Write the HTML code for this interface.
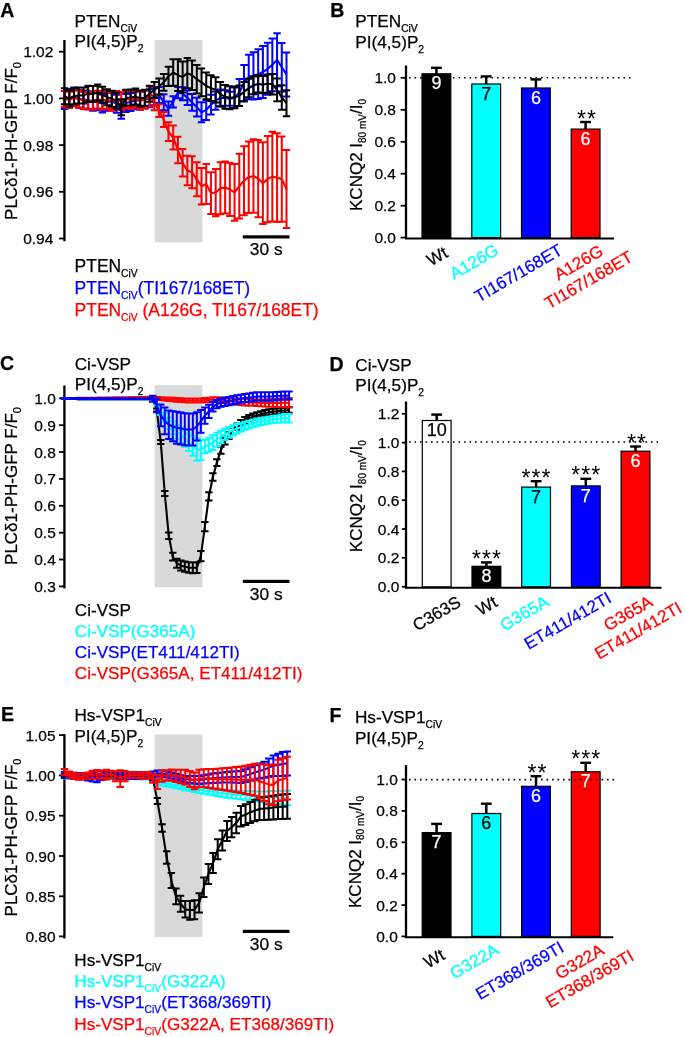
<!DOCTYPE html>
<html><head><meta charset="utf-8"><style>
html,body{margin:0;padding:0;background:#fff;}
svg{display:block;will-change:transform;}
text{font-family:"Liberation Sans", sans-serif;}
</style></head><body>
<svg width="685" height="1037" viewBox="0 0 685 1037" font-family='"Liberation Sans", sans-serif'>
<rect width="685" height="1037" fill="#fff"/>
<text transform="translate(0.30 16.80) scale(1.0 1)" font-size="19.5" text-anchor="start" fill="#000" stroke="#000" stroke-width="0.25" font-weight="bold">A</text>
<text transform="translate(74.60 26.60) scale(1.0 1)" font-size="17.2" text-anchor="start" fill="#000" stroke="#000" stroke-width="0.25" font-weight="normal">PTEN<tspan font-size="10.3" dy="5.0">CiV</tspan><tspan dy="-5.0">​</tspan></text>
<text transform="translate(74.60 47.00) scale(1.0 1)" font-size="17.2" text-anchor="start" fill="#000" stroke="#000" stroke-width="0.25" font-weight="normal">PI(4,5)P<tspan font-size="10.3" dy="5.0">2</tspan><tspan dy="-5.0">​</tspan></text>
<rect x="154.70" y="40.00" width="47.70" height="202.30" fill="#d8dada"/>
<line x1="64.40" y1="40.00" x2="64.40" y2="241.20" stroke="#000" stroke-width="2.3" />
<line x1="59.00" y1="51.70" x2="64.40" y2="51.70" stroke="#000" stroke-width="1.8" />
<text transform="translate(53.30 57.20) scale(1.0 1)" font-size="15.5" text-anchor="end" fill="#000" stroke="#000" stroke-width="0.25" font-weight="normal">1.02</text>
<line x1="59.00" y1="98.40" x2="64.40" y2="98.40" stroke="#000" stroke-width="1.8" />
<text transform="translate(53.30 103.90) scale(1.0 1)" font-size="15.5" text-anchor="end" fill="#000" stroke="#000" stroke-width="0.25" font-weight="normal">1.00</text>
<line x1="59.00" y1="145.10" x2="64.40" y2="145.10" stroke="#000" stroke-width="1.8" />
<text transform="translate(53.30 150.60) scale(1.0 1)" font-size="15.5" text-anchor="end" fill="#000" stroke="#000" stroke-width="0.25" font-weight="normal">0.98</text>
<line x1="59.00" y1="191.80" x2="64.40" y2="191.80" stroke="#000" stroke-width="1.8" />
<text transform="translate(53.30 197.30) scale(1.0 1)" font-size="15.5" text-anchor="end" fill="#000" stroke="#000" stroke-width="0.25" font-weight="normal">0.96</text>
<line x1="59.00" y1="238.50" x2="64.40" y2="238.50" stroke="#000" stroke-width="1.8" />
<text transform="translate(53.30 244.00) scale(1.0 1)" font-size="15.5" text-anchor="end" fill="#000" stroke="#000" stroke-width="0.25" font-weight="normal">0.94</text>
<text transform="translate(16.50 141.00) scale(1.0 1) rotate(-90)" font-size="17" text-anchor="middle" fill="#000" stroke="#000" stroke-width="0.25" font-weight="normal">PLCδ1-PH-GFP F/F<tspan font-size="11" dy="4">0</tspan><tspan dy="-4">​</tspan></text>
<rect x="242.80" y="235.30" width="46.70" height="3.20" fill="#000"/>
<text transform="translate(266.20 255.30) scale(1.0 1)" font-size="17.4" text-anchor="middle" fill="#000" stroke="#000" stroke-width="0.25" font-weight="normal">30 s</text>
<text transform="translate(74.60 271.60) scale(1.0 1)" font-size="17.45" text-anchor="start" fill="#000" stroke="#000" stroke-width="0.25" font-weight="normal">PTEN<tspan font-size="10.3" dy="5.0">CiV</tspan><tspan dy="-5.0">​</tspan></text>
<text transform="translate(74.60 293.90) scale(1.0 1)" font-size="17.45" text-anchor="start" fill="#0000ff" stroke="#0000ff" stroke-width="0.25" font-weight="normal">PTEN<tspan font-size="10.3" dy="5.0">CiV</tspan><tspan dy="-5.0">​</tspan>(TI167/168ET)</text>
<text transform="translate(74.60 316.20) scale(1.0 1)" font-size="17.45" text-anchor="start" fill="#ff0000" stroke="#ff0000" stroke-width="0.25" font-weight="normal">PTEN<tspan font-size="10.3" dy="5.0">CiV</tspan><tspan dy="-5.0">​</tspan> (A126G, TI167/168ET)</text>
<path d="M64.60 91.00V109.00M60.90 91.00H68.30M60.90 109.00H68.30M69.32 89.01V107.01M65.62 89.01H73.02M65.62 107.01H73.02M74.04 87.39V105.39M70.34 87.39H77.74M70.34 105.39H77.74M78.76 89.76V107.76M75.06 89.76H82.46M75.06 107.76H82.46M83.49 90.51V108.51M79.79 90.51H87.19M79.79 108.51H87.19M88.21 91.21V109.21M84.51 91.21H91.91M84.51 109.21H91.91M92.93 92.84V110.84M89.23 92.84H96.63M89.23 110.84H96.63M97.65 92.32V110.32M93.95 92.32H101.35M93.95 110.32H101.35M102.37 94.45V112.45M98.67 94.45H106.07M98.67 112.45H106.07M107.09 92.78V110.78M103.39 92.78H110.79M103.39 110.78H110.79M111.81 92.33V110.33M108.11 92.33H115.51M108.11 110.33H115.51M116.53 94.75V112.75M112.83 94.75H120.23M112.83 112.75H120.23M121.26 100.64V118.64M117.56 100.64H124.96M117.56 118.64H124.96M125.98 94.03V112.03M122.28 94.03H129.68M122.28 112.03H129.68M130.70 93.06V111.06M127.00 93.06H134.40M127.00 111.06H134.40M135.42 91.23V109.23M131.72 91.23H139.12M131.72 109.23H139.12M140.14 91.83V109.83M136.44 91.83H143.84M136.44 109.83H143.84M144.86 90.46V108.46M141.16 90.46H148.56M141.16 108.46H148.56M149.58 89.28V107.28M145.88 89.28H153.28M145.88 107.28H153.28M154.30 88.11V105.25M150.60 88.11H158.00M150.60 105.25H158.00M159.03 86.89V103.09M155.33 86.89H162.73M155.33 103.09H162.73M163.75 94.16V110.16M160.05 94.16H167.45M160.05 110.16H167.45M168.47 101.50V115.85M164.77 101.50H172.17M164.77 115.85H172.17M173.19 96.29V107.49M169.49 96.29H176.89M169.49 107.49H176.89M177.91 87.01V98.18M174.21 87.01H181.61M174.21 98.18H181.61M182.63 87.31V100.37M178.93 87.31H186.33M178.93 100.37H186.33M187.35 90.18V105.12M183.65 90.18H191.05M183.65 105.12H191.05M192.07 93.97V110.80M188.37 93.97H195.77M188.37 110.80H195.77M196.80 97.82V116.54M193.10 97.82H200.50M193.10 116.54H200.50M201.52 102.19V122.19M197.82 102.19H205.22M197.82 122.19H205.22M206.24 99.91V119.91M202.54 99.91H209.94M202.54 119.91H209.94M210.96 94.86V114.57M207.26 94.86H214.66M207.26 114.57H214.66M215.68 91.44V109.74M211.98 91.44H219.38M211.98 109.74H219.38M220.40 89.41V106.29M216.70 89.41H224.10M216.70 106.29H224.10M225.12 90.29V105.75M221.42 90.29H228.82M221.42 105.75H228.82M229.84 91.78V105.83M226.14 91.78H233.54M226.14 105.83H233.54M234.57 87.62V108.01M230.87 87.62H238.27M230.87 108.01H238.27M239.29 78.96V105.96M235.59 78.96H242.99M235.59 105.96H242.99M244.01 65.07V101.09M240.31 65.07H247.71M240.31 101.09H247.71M248.73 54.72V99.14M245.03 54.72H252.43M245.03 99.14H252.43M253.45 52.29V99.40M249.75 52.29H257.15M249.75 99.40H257.15M258.17 49.24V99.05M254.47 49.24H261.87M254.47 99.05H261.87M262.89 46.05V98.05M259.19 46.05H266.59M259.19 98.05H266.59M267.61 42.82V94.82M263.91 42.82H271.31M263.91 94.82H271.31M272.34 38.45V91.23M268.64 38.45H276.04M268.64 91.23H276.04M277.06 33.20V86.19M273.36 33.20H280.76M273.36 86.19H280.76M281.78 42.94V91.44M278.08 42.94H285.48M278.08 91.44H285.48M286.50 52.40V96.40M282.80 52.40H290.20M282.80 96.40H290.20" stroke="#0000ff" stroke-width="2.0" fill="none"/>
<polyline points="64.60,100.00 69.32,98.01 74.04,96.39 78.76,98.76 83.49,99.51 88.21,100.21 92.93,101.84 97.65,101.32 102.37,103.45 107.09,101.78 111.81,101.33 116.53,103.75 121.26,109.64 125.98,103.03 130.70,102.06 135.42,100.23 140.14,100.83 144.86,99.46 149.58,98.28 154.30,96.68 159.03,94.99 163.75,102.16 168.47,108.67 173.19,101.89 177.91,92.59 182.63,93.84 187.35,97.65 192.07,102.39 196.80,107.18 201.52,112.19 206.24,109.91 210.96,104.71 215.68,100.59 220.40,97.85 225.12,98.02 229.84,98.81 234.57,97.81 239.29,92.46 244.01,83.08 248.73,76.93 253.45,75.84 258.17,74.15 262.89,72.05 267.61,68.82 272.34,64.84 277.06,59.69 281.78,67.19 286.50,74.40" stroke="#0000ff" stroke-width="2.1" fill="none" stroke-linejoin="round"/>
<path d="M64.60 91.00V107.00M60.90 91.00H68.30M60.90 107.00H68.30M69.32 91.73V107.93M65.62 91.73H73.02M65.62 107.93H73.02M74.04 89.74V106.22M70.34 89.74H77.74M70.34 106.22H77.74M78.76 90.84V107.59M75.06 90.84H82.46M75.06 107.59H82.46M83.49 91.99V109.02M79.79 91.99H87.19M79.79 109.02H87.19M88.21 92.23V109.54M84.51 92.23H91.91M84.51 109.54H91.91M92.93 92.05V109.64M89.23 92.05H96.63M89.23 109.64H96.63M97.65 90.73V108.59M93.95 90.73H101.35M93.95 108.59H101.35M102.37 91.45V109.45M98.67 91.45H106.07M98.67 109.45H106.07M107.09 90.65V108.65M103.39 90.65H110.79M103.39 108.65H110.79M111.81 92.67V110.67M108.11 92.67H115.51M108.11 110.67H115.51M116.53 91.11V109.11M112.83 91.11H120.23M112.83 109.11H120.23M121.26 91.90V109.90M117.56 91.90H124.96M117.56 109.90H124.96M125.98 90.01V108.01M122.28 90.01H129.68M122.28 108.01H129.68M130.70 90.94V108.94M127.00 90.94H134.40M127.00 108.94H134.40M135.42 89.23V107.23M131.72 89.23H139.12M131.72 107.23H139.12M140.14 91.48V109.48M136.44 91.48H143.84M136.44 109.48H143.84M144.86 90.46V108.46M141.16 90.46H148.56M141.16 108.46H148.56M149.58 86.40V106.23M145.88 86.40H153.28M145.88 106.23H153.28M154.30 95.21V110.29M150.60 95.21H158.00M150.60 110.29H158.00M159.03 104.13V117.03M155.33 104.13H162.73M155.33 117.03H162.73M163.75 112.03V127.03M160.05 112.03H167.45M160.05 127.03H167.45M168.47 122.33V141.08M164.77 122.33H172.17M164.77 141.08H172.17M173.19 125.60V149.59M169.49 125.60H176.89M169.49 149.59H176.89M177.91 136.74V163.32M174.21 136.74H181.61M174.21 163.32H181.61M182.63 148.98V176.50M178.93 148.98H186.33M178.93 176.50H186.33M187.35 155.84V185.18M183.65 155.84H191.05M183.65 185.18H191.05M192.07 156.34V188.37M188.37 156.34H195.77M188.37 188.37H195.77M196.80 162.32V196.36M193.10 162.32H200.50M193.10 196.36H200.50M201.52 168.01V204.51M197.82 168.01H205.22M197.82 204.51H205.22M206.24 164.03V203.95M202.54 164.03H209.94M202.54 203.95H209.94M210.96 172.22V214.01M207.26 172.22H214.66M207.26 214.01H214.66M215.68 168.91V216.17M211.98 168.91H219.38M211.98 216.17H219.38M220.40 162.28V214.28M216.70 162.28H224.10M216.70 214.28H224.10M225.12 161.60V213.60M221.42 161.60H228.82M221.42 213.60H228.82M229.84 162.69V216.00M226.14 162.69H233.54M226.14 216.00H233.54M234.57 164.09V220.78M230.87 164.09H238.27M230.87 220.78H238.27M239.29 153.84V218.56M235.59 153.84H242.99M235.59 218.56H242.99M244.01 146.16V215.36M240.31 146.16H247.71M240.31 215.36H247.71M248.73 141.44V212.93M245.03 141.44H252.43M245.03 212.93H252.43M253.45 139.28V212.66M249.75 139.28H257.15M249.75 212.66H257.15M258.17 139.96V217.14M254.47 139.96H261.87M254.47 217.14H261.87M262.89 142.20V224.09M259.19 142.20H266.59M259.19 224.09H266.59M267.61 135.95V222.19M263.91 135.95H271.31M263.91 222.19H271.31M272.34 131.63V221.55M268.64 131.63H276.04M268.64 221.55H276.04M277.06 133.24V221.98M273.36 133.24H280.76M273.36 221.98H280.76M281.78 136.51V221.78M278.08 136.51H285.48M278.08 221.78H285.48M286.50 150.00V228.00M282.80 150.00H290.20M282.80 228.00H290.20" stroke="#ff0000" stroke-width="2.0" fill="none"/>
<polyline points="64.60,99.00 69.32,99.83 74.04,97.98 78.76,99.21 83.49,100.50 88.21,100.88 92.93,100.84 97.65,99.66 102.37,100.45 107.09,99.65 111.81,101.67 116.53,100.11 121.26,100.90 125.98,99.01 130.70,99.94 135.42,98.23 140.14,100.48 144.86,99.46 149.58,96.31 154.30,102.75 159.03,110.58 163.75,119.53 168.47,131.70 173.19,137.59 177.91,150.03 182.63,162.74 187.35,170.51 192.07,172.36 196.80,179.34 201.52,186.26 206.24,183.99 210.96,193.11 215.68,192.54 220.40,188.28 225.12,187.60 229.84,189.34 234.57,192.43 239.29,186.20 244.01,180.76 248.73,177.19 253.45,175.97 258.17,178.55 262.89,183.15 267.61,179.07 272.34,176.59 277.06,177.61 281.78,179.14 286.50,189.00" stroke="#ff0000" stroke-width="2.1" fill="none" stroke-linejoin="round"/>
<path d="M64.60 88.30V104.30M60.90 88.30H68.30M60.90 104.30H68.30M69.32 90.59V106.59M65.62 90.59H73.02M65.62 106.59H73.02M74.04 88.28V104.28M70.34 88.28H77.74M70.34 104.28H77.74M78.76 87.46V103.46M75.06 87.46H82.46M75.06 103.46H82.46M83.49 87.38V103.38M79.79 87.38H87.19M79.79 103.38H87.19M88.21 85.78V101.78M84.51 85.78H91.91M84.51 101.78H91.91M92.93 85.99V101.99M89.23 85.99H96.63M89.23 101.99H96.63M97.65 84.55V100.55M93.95 84.55H101.35M93.95 100.55H101.35M102.37 86.83V102.83M98.67 86.83H106.07M98.67 102.83H106.07M107.09 89.16V105.16M103.39 89.16H110.79M103.39 105.16H110.79M111.81 90.68V106.68M108.11 90.68H115.51M108.11 106.68H115.51M116.53 92.85V108.85M112.83 92.85H120.23M112.83 108.85H120.23M121.26 99.18V115.18M117.56 99.18H124.96M117.56 115.18H124.96M125.98 89.70V105.70M122.28 89.70H129.68M122.28 105.70H129.68M130.70 89.53V105.53M127.00 89.53H134.40M127.00 105.53H134.40M135.42 88.41V104.41M131.72 88.41H139.12M131.72 104.41H139.12M140.14 90.38V106.38M136.44 90.38H143.84M136.44 106.38H143.84M144.86 89.67V105.67M141.16 89.67H148.56M141.16 105.67H148.56M149.58 85.86V101.86M145.88 85.86H153.28M145.88 101.86H153.28M154.30 81.93V97.93M150.60 81.93H158.00M150.60 97.93H158.00M159.03 78.46V94.46M155.33 78.46H162.73M155.33 94.46H162.73M163.75 73.88V90.75M160.05 73.88H167.45M160.05 90.75H167.45M168.47 66.64V85.88M164.77 66.64H172.17M164.77 85.88H172.17M173.19 59.34V85.72M169.49 59.34H176.89M169.49 85.72H176.89M177.91 59.34V91.07M174.21 59.34H181.61M174.21 91.07H181.61M182.63 61.44V92.49M178.93 61.44H186.33M178.93 92.49H186.33M187.35 57.91V88.29M183.65 57.91H191.05M183.65 88.29H191.05M192.07 60.40V89.98M188.37 60.40H195.77M188.37 89.98H195.77M196.80 64.91V93.55M193.10 64.91H200.50M193.10 93.55H200.50M201.52 68.55V96.25M197.82 68.55H205.22M197.82 96.25H205.22M206.24 72.58V99.33M202.54 72.58H209.94M202.54 99.33H209.94M210.96 75.19V101.06M207.26 75.19H214.66M207.26 101.06H214.66M215.68 77.21V102.46M211.98 77.21H219.38M211.98 102.46H219.38M220.40 81.89V106.50M216.70 81.89H224.10M216.70 106.50H224.10M225.12 84.90V108.87M221.42 84.90H228.82M221.42 108.87H228.82M229.84 86.36V109.20M226.14 86.36H233.54M226.14 109.20H233.54M234.57 86.53V108.23M230.87 86.53H238.27M230.87 108.23H238.27M239.29 85.38V105.95M235.59 85.38H242.99M235.59 105.95H242.99M244.01 82.10V101.54M240.31 82.10H247.71M240.31 101.54H247.71M248.73 78.87V97.17M245.03 78.87H252.43M245.03 97.17H252.43M253.45 76.57V94.34M249.75 76.57H257.15M249.75 94.34H257.15M258.17 74.99V92.44M254.47 74.99H261.87M254.47 92.44H261.87M262.89 76.09V93.23M259.19 76.09H266.59M259.19 93.23H266.59M267.61 74.41V92.63M263.91 74.41H271.31M263.91 92.63H271.31M272.34 74.05V94.47M268.64 74.05H276.04M268.64 94.47H276.04M277.06 78.60V101.22M273.36 78.60H280.76M273.36 101.22H280.76M281.78 85.16V109.71M278.08 85.16H285.48M278.08 109.71H285.48M286.50 90.30V116.30M282.80 90.30H290.20M282.80 116.30H290.20" stroke="#000000" stroke-width="2.0" fill="none"/>
<polyline points="64.60,96.30 69.32,98.59 74.04,96.28 78.76,95.46 83.49,95.38 88.21,93.78 92.93,93.99 97.65,92.55 102.37,94.83 107.09,97.16 111.81,98.68 116.53,100.85 121.26,107.18 125.98,97.70 130.70,97.53 135.42,96.41 140.14,98.38 144.86,97.67 149.58,93.86 154.30,89.93 159.03,86.46 163.75,82.32 168.47,76.26 173.19,72.53 177.91,75.21 182.63,76.97 187.35,73.10 192.07,75.19 196.80,79.23 201.52,82.40 206.24,85.95 210.96,88.12 215.68,89.83 220.40,94.20 225.12,96.88 229.84,97.78 234.57,97.38 239.29,95.67 244.01,91.82 248.73,88.02 253.45,85.46 258.17,83.71 262.89,84.66 267.61,83.52 272.34,84.26 277.06,89.91 281.78,97.43 286.50,103.30" stroke="#000000" stroke-width="2.1" fill="none" stroke-linejoin="round"/>
<text transform="translate(330.20 16.80) scale(1.0 1)" font-size="19.5" text-anchor="start" fill="#000" stroke="#000" stroke-width="0.25" font-weight="bold">B</text>
<text transform="translate(355.30 27.40) scale(1.0 1)" font-size="17.2" text-anchor="start" fill="#000" stroke="#000" stroke-width="0.25" font-weight="normal">PTEN<tspan font-size="10.3" dy="5.0">CiV</tspan><tspan dy="-5.0">​</tspan></text>
<text transform="translate(355.30 47.60) scale(1.0 1)" font-size="17.2" text-anchor="start" fill="#000" stroke="#000" stroke-width="0.25" font-weight="normal">PI(4,5)P<tspan font-size="10.3" dy="5.0">2</tspan><tspan dy="-5.0">​</tspan></text>
<line x1="406.00" y1="65.50" x2="406.00" y2="239.10" stroke="#000" stroke-width="2.3" />
<line x1="405.00" y1="238.50" x2="614.00" y2="238.50" stroke="#000" stroke-width="2.1" />
<line x1="400.60" y1="77.80" x2="406.00" y2="77.80" stroke="#000" stroke-width="1.8" />
<text transform="translate(396.00 83.30) scale(1.0 1)" font-size="15.5" text-anchor="end" fill="#000" stroke="#000" stroke-width="0.25" font-weight="normal">1.0</text>
<line x1="400.60" y1="109.80" x2="406.00" y2="109.80" stroke="#000" stroke-width="1.8" />
<text transform="translate(396.00 115.30) scale(1.0 1)" font-size="15.5" text-anchor="end" fill="#000" stroke="#000" stroke-width="0.25" font-weight="normal">0.8</text>
<line x1="400.60" y1="141.80" x2="406.00" y2="141.80" stroke="#000" stroke-width="1.8" />
<text transform="translate(396.00 147.30) scale(1.0 1)" font-size="15.5" text-anchor="end" fill="#000" stroke="#000" stroke-width="0.25" font-weight="normal">0.6</text>
<line x1="400.60" y1="173.70" x2="406.00" y2="173.70" stroke="#000" stroke-width="1.8" />
<text transform="translate(396.00 179.20) scale(1.0 1)" font-size="15.5" text-anchor="end" fill="#000" stroke="#000" stroke-width="0.25" font-weight="normal">0.4</text>
<line x1="400.60" y1="205.70" x2="406.00" y2="205.70" stroke="#000" stroke-width="1.8" />
<text transform="translate(396.00 211.20) scale(1.0 1)" font-size="15.5" text-anchor="end" fill="#000" stroke="#000" stroke-width="0.25" font-weight="normal">0.2</text>
<line x1="400.60" y1="237.60" x2="406.00" y2="237.60" stroke="#000" stroke-width="1.8" />
<text transform="translate(396.00 243.10) scale(1.0 1)" font-size="15.5" text-anchor="end" fill="#000" stroke="#000" stroke-width="0.25" font-weight="normal">0.0</text>
<text transform="translate(362.00 155.00) scale(1.0 1) rotate(-90)" font-size="17" text-anchor="middle" fill="#000" stroke="#000" stroke-width="0.25" font-weight="normal">KCNQ2 I<tspan font-size="10" dy="3.5">80 mV</tspan><tspan dy="-3.5">​</tspan>/I<tspan font-size="10" dy="3.5">0</tspan><tspan dy="-3.5">​</tspan></text>
<line x1="436.40" y1="67.80" x2="436.40" y2="73.80" stroke="#000" stroke-width="2.5" />
<line x1="431.00" y1="67.80" x2="441.80" y2="67.80" stroke="#000" stroke-width="2.4" />
<rect x="422.00" y="73.80" width="28.80" height="163.80" fill="#000000" stroke="#000" stroke-width="1.2"/>
<line x1="486.20" y1="76.40" x2="486.20" y2="84.00" stroke="#000" stroke-width="2.5" />
<line x1="480.80" y1="76.40" x2="491.60" y2="76.40" stroke="#000" stroke-width="2.4" />
<rect x="471.80" y="84.00" width="28.80" height="153.60" fill="#00ffff" stroke="#000" stroke-width="1.2"/>
<line x1="535.90" y1="79.40" x2="535.90" y2="88.00" stroke="#000" stroke-width="2.5" />
<line x1="530.50" y1="79.40" x2="541.30" y2="79.40" stroke="#000" stroke-width="2.4" />
<rect x="521.50" y="88.00" width="28.80" height="149.60" fill="#0000ff" stroke="#000" stroke-width="1.2"/>
<line x1="585.60" y1="122.00" x2="585.60" y2="129.10" stroke="#000" stroke-width="2.5" />
<line x1="580.20" y1="122.00" x2="591.00" y2="122.00" stroke="#000" stroke-width="2.4" />
<rect x="571.20" y="129.10" width="28.80" height="108.50" fill="#ff0000" stroke="#000" stroke-width="1.2"/>
<text x="587.00" y="126.60" font-size="23" letter-spacing="1.05" text-anchor="middle">**</text>
<line x1="409" y1="77.80" x2="632" y2="77.80" stroke="#000" stroke-width="1.6" stroke-dasharray="1.6 3.9"/>
<text transform="translate(436.40 89.40) scale(1.0 1)" font-size="18" text-anchor="middle" fill="#fff" stroke="#fff" stroke-width="0.25" font-weight="normal">9</text>
<text transform="translate(486.20 99.60) scale(1.0 1)" font-size="18" text-anchor="middle" fill="#000" stroke="#000" stroke-width="0.25" font-weight="normal">7</text>
<text transform="translate(535.90 103.60) scale(1.0 1)" font-size="18" text-anchor="middle" fill="#fff" stroke="#fff" stroke-width="0.25" font-weight="normal">6</text>
<text transform="translate(585.60 144.70) scale(1.0 1)" font-size="18" text-anchor="middle" fill="#fff" stroke="#fff" stroke-width="0.25" font-weight="normal">6</text>
<g transform="translate(449.00 256.20) rotate(-30)"><text x="-10.38" y="0.00" font-size="17" text-anchor="middle" fill="#000000" stroke="#000000" stroke-width="0.25">Wt</text></g>
<g transform="translate(499.80 253.50) rotate(-30)"><text x="-26.46" y="0.00" font-size="17" text-anchor="middle" fill="#00ffff" stroke="#00ffff" stroke-width="0.25">A126G</text></g>
<g transform="translate(563.80 253.50) rotate(-30)"><text x="-49.14" y="0.00" font-size="17" text-anchor="middle" fill="#0000ff" stroke="#0000ff" stroke-width="0.25">TI167/168ET</text></g>
<g transform="translate(624.00 243.00) rotate(-30)"><text x="-49.14" y="0.00" font-size="17" text-anchor="middle" fill="#ff0000" stroke="#ff0000" stroke-width="0.25">A126G</text><text x="-49.14" y="20.00" font-size="17" text-anchor="middle" fill="#ff0000" stroke="#ff0000" stroke-width="0.25">TI167/168ET</text></g>
<text transform="translate(0.00 370.20) scale(1.0 1)" font-size="19.5" text-anchor="start" fill="#000" stroke="#000" stroke-width="0.25" font-weight="bold">C</text>
<text transform="translate(74.70 369.60) scale(1.0 1)" font-size="17.2" text-anchor="start" fill="#000" stroke="#000" stroke-width="0.25" font-weight="normal">Ci-VSP</text>
<text transform="translate(74.70 390.30) scale(1.0 1)" font-size="17.2" text-anchor="start" fill="#000" stroke="#000" stroke-width="0.25" font-weight="normal">PI(4,5)P<tspan font-size="10.3" dy="5.0">2</tspan><tspan dy="-5.0">​</tspan></text>
<rect x="154.70" y="385.20" width="47.70" height="202.00" fill="#d8dada"/>
<line x1="64.40" y1="385.40" x2="64.40" y2="588.40" stroke="#000" stroke-width="2.3" />
<line x1="59.00" y1="398.30" x2="64.40" y2="398.30" stroke="#000" stroke-width="1.8" />
<text transform="translate(55.80 403.80) scale(1.0 1)" font-size="15.5" text-anchor="end" fill="#000" stroke="#000" stroke-width="0.25" font-weight="normal">1.0</text>
<line x1="59.00" y1="425.20" x2="64.40" y2="425.20" stroke="#000" stroke-width="1.8" />
<text transform="translate(55.80 430.70) scale(1.0 1)" font-size="15.5" text-anchor="end" fill="#000" stroke="#000" stroke-width="0.25" font-weight="normal">0.9</text>
<line x1="59.00" y1="452.00" x2="64.40" y2="452.00" stroke="#000" stroke-width="1.8" />
<text transform="translate(55.80 457.50) scale(1.0 1)" font-size="15.5" text-anchor="end" fill="#000" stroke="#000" stroke-width="0.25" font-weight="normal">0.8</text>
<line x1="59.00" y1="478.90" x2="64.40" y2="478.90" stroke="#000" stroke-width="1.8" />
<text transform="translate(55.80 484.40) scale(1.0 1)" font-size="15.5" text-anchor="end" fill="#000" stroke="#000" stroke-width="0.25" font-weight="normal">0.7</text>
<line x1="59.00" y1="505.80" x2="64.40" y2="505.80" stroke="#000" stroke-width="1.8" />
<text transform="translate(55.80 511.30) scale(1.0 1)" font-size="15.5" text-anchor="end" fill="#000" stroke="#000" stroke-width="0.25" font-weight="normal">0.6</text>
<line x1="59.00" y1="532.70" x2="64.40" y2="532.70" stroke="#000" stroke-width="1.8" />
<text transform="translate(55.80 538.20) scale(1.0 1)" font-size="15.5" text-anchor="end" fill="#000" stroke="#000" stroke-width="0.25" font-weight="normal">0.5</text>
<line x1="59.00" y1="559.50" x2="64.40" y2="559.50" stroke="#000" stroke-width="1.8" />
<text transform="translate(55.80 565.00) scale(1.0 1)" font-size="15.5" text-anchor="end" fill="#000" stroke="#000" stroke-width="0.25" font-weight="normal">0.4</text>
<line x1="59.00" y1="586.40" x2="64.40" y2="586.40" stroke="#000" stroke-width="1.8" />
<text transform="translate(55.80 591.90) scale(1.0 1)" font-size="15.5" text-anchor="end" fill="#000" stroke="#000" stroke-width="0.25" font-weight="normal">0.3</text>
<text transform="translate(16.50 486.00) scale(1.0 1) rotate(-90)" font-size="17" text-anchor="middle" fill="#000" stroke="#000" stroke-width="0.25" font-weight="normal">PLCδ1-PH-GFP F/F<tspan font-size="11" dy="4">0</tspan><tspan dy="-4">​</tspan></text>
<rect x="242.80" y="579.80" width="46.70" height="3.20" fill="#000"/>
<text transform="translate(266.20 599.80) scale(1.0 1)" font-size="17.4" text-anchor="middle" fill="#000" stroke="#000" stroke-width="0.25" font-weight="normal">30 s</text>
<text transform="translate(74.80 615.80) scale(1.0 1)" font-size="17.1" text-anchor="start" fill="#000" stroke="#000" stroke-width="0.25" font-weight="normal">Ci-VSP</text>
<text transform="translate(74.80 636.60) scale(1.0 1)" font-size="17.1" text-anchor="start" fill="#00ffff" stroke="#00ffff" stroke-width="0.25" font-weight="normal">Ci-VSP(G365A)</text>
<text transform="translate(74.80 657.70) scale(1.0 1)" font-size="17.1" text-anchor="start" fill="#0000ff" stroke="#0000ff" stroke-width="0.25" font-weight="normal">Ci-VSP(ET411/412TI)</text>
<text transform="translate(74.80 679.30) scale(1.0 1)" font-size="17.1" text-anchor="start" fill="#ff0000" stroke="#ff0000" stroke-width="0.25" font-weight="normal">Ci-VSP(G365A, ET411/412TI)</text>
<path d="M64.60 398.10V399.10M60.90 398.10H68.30M60.90 399.10H68.30M68.61 398.11V399.11M64.91 398.11H72.31M64.91 399.11H72.31M72.61 398.12V399.12M68.91 398.12H76.31M68.91 399.12H76.31M76.62 398.12V399.12M72.92 398.12H80.32M72.92 399.12H80.32M80.63 398.13V399.13M76.93 398.13H84.33M76.93 399.13H84.33M84.64 398.14V399.14M80.94 398.14H88.34M80.94 399.14H88.34M88.64 398.15V399.15M84.94 398.15H92.34M84.94 399.15H92.34M92.65 398.16V399.16M88.95 398.16H96.35M88.95 399.16H96.35M96.66 398.17V399.17M92.96 398.17H100.36M92.96 399.17H100.36M100.66 398.18V399.18M96.96 398.18H104.36M96.96 399.18H104.36M104.67 398.19V399.19M100.97 398.19H108.37M100.97 399.19H108.37M108.68 398.20V399.20M104.98 398.20H112.38M104.98 399.20H112.38M112.69 398.21V399.21M108.99 398.21H116.39M108.99 399.21H116.39M116.69 398.22V399.22M112.99 398.22H120.39M112.99 399.22H120.39M120.70 398.23V399.23M117.00 398.23H124.40M117.00 399.23H124.40M124.71 398.23V399.23M121.01 398.23H128.41M121.01 399.23H128.41M128.71 398.24V399.24M125.01 398.24H132.41M125.01 399.24H132.41M132.72 398.25V399.25M129.02 398.25H136.42M129.02 399.25H136.42M136.73 398.26V399.26M133.03 398.26H140.43M133.03 399.26H140.43M140.74 398.27V399.27M137.04 398.27H144.44M137.04 399.27H144.44M144.74 398.28V399.28M141.04 398.28H148.44M141.04 399.28H148.44M148.75 398.29V399.29M145.05 398.29H152.45M145.05 399.29H152.45M152.76 397.91V399.69M149.06 397.91H156.46M149.06 399.69H156.46M156.76 408.55V411.48M153.06 408.55H160.46M153.06 411.48H160.46M160.77 440.11V444.05M157.07 440.11H164.47M157.07 444.05H164.47M164.78 491.00V495.95M161.08 491.00H168.48M161.08 495.95H168.48M168.79 532.54V539.06M165.09 532.54H172.49M165.09 539.06H172.49M172.79 552.70V560.54M169.09 552.70H176.49M169.09 560.54H176.49M176.80 558.75V567.79M173.10 558.75H180.50M173.10 567.79H180.50M180.81 560.38V570.43M177.11 560.38H184.51M177.11 570.43H184.51M184.81 561.57V571.84M181.11 561.57H188.51M181.11 571.84H188.51M188.82 562.32V572.81M185.12 562.32H192.52M185.12 572.81H192.52M192.83 562.55V573.26M189.13 562.55H196.53M189.13 573.26H196.53M196.84 562.18V573.11M193.14 562.18H200.54M193.14 573.11H200.54M200.84 551.12V561.31M197.14 551.12H204.54M197.14 561.31H204.54M204.85 522.10V531.15M201.15 522.10H208.55M201.15 531.15H208.55M208.86 492.35V500.58M205.16 492.35H212.56M205.16 500.58H212.56M212.86 473.28V480.71M209.16 473.28H216.56M209.16 480.71H216.56M216.87 459.13V466.09M213.17 459.13H220.57M213.17 466.09H220.57M220.88 446.83V453.69M217.18 446.83H224.58M217.18 453.69H224.58M224.89 437.86V444.62M221.19 437.86H228.59M221.19 444.62H228.59M228.89 432.32V438.99M225.19 432.32H232.59M225.19 438.99H232.59M232.90 427.41V433.99M229.20 427.41H236.60M229.20 433.99H236.60M236.91 423.46V429.93M233.21 423.46H240.61M233.21 429.93H240.61M240.91 419.92V426.31M237.21 419.92H244.61M237.21 426.31H244.61M244.92 417.08V423.40M241.22 417.08H248.62M241.22 423.40H248.62M248.93 415.11V421.36M245.23 415.11H252.63M245.23 421.36H252.63M252.94 413.52V419.71M249.24 413.52H256.64M249.24 419.71H256.64M256.94 412.34V418.46M253.24 412.34H260.64M253.24 418.46H260.64M260.95 411.19V417.25M257.25 411.19H264.65M257.25 417.25H264.65M264.96 410.12V416.11M261.26 410.12H268.66M261.26 416.11H268.66M268.96 409.30V415.23M265.26 409.30H272.66M265.26 415.23H272.66M272.97 408.76V414.62M269.27 408.76H276.67M269.27 414.62H276.67M276.98 408.43V414.23M273.28 408.43H280.68M273.28 414.23H280.68M280.99 408.04V413.77M277.29 408.04H284.69M277.29 413.77H284.69M284.99 407.63V413.30M281.29 407.63H288.69M281.29 413.30H288.69M289.00 407.20V412.80M285.30 407.20H292.70M285.30 412.80H292.70" stroke="#000000" stroke-width="2.0" fill="none"/>
<polyline points="64.60,398.60 68.61,398.61 72.61,398.62 76.62,398.62 80.63,398.63 84.64,398.64 88.64,398.65 92.65,398.66 96.66,398.67 100.66,398.68 104.67,398.69 108.68,398.70 112.69,398.71 116.69,398.72 120.70,398.73 124.71,398.73 128.71,398.74 132.72,398.75 136.73,398.76 140.74,398.77 144.74,398.78 148.75,398.79 152.76,398.80 156.76,410.01 160.77,442.08 164.78,493.48 168.79,535.80 172.79,556.62 176.80,563.27 180.81,565.40 184.81,566.70 188.82,567.57 192.83,567.90 196.84,567.65 200.84,556.21 204.85,526.62 208.86,496.46 212.86,477.00 216.87,462.61 220.88,450.26 224.89,441.24 228.89,435.66 232.90,430.70 236.91,426.69 240.91,423.11 244.92,420.24 248.93,418.24 252.94,416.61 256.94,415.40 260.95,414.22 264.96,413.12 268.96,412.27 272.97,411.69 276.98,411.33 280.99,410.90 284.99,410.46 289.00,410.00" stroke="#000000" stroke-width="2.1" fill="none" stroke-linejoin="round"/>
<path d="M64.60 398.10V399.10M60.90 398.10H68.30M60.90 399.10H68.30M68.61 398.11V399.11M64.91 398.11H72.31M64.91 399.11H72.31M72.61 398.12V399.12M68.91 398.12H76.31M68.91 399.12H76.31M76.62 398.12V399.12M72.92 398.12H80.32M72.92 399.12H80.32M80.63 398.13V399.13M76.93 398.13H84.33M76.93 399.13H84.33M84.64 398.14V399.14M80.94 398.14H88.34M80.94 399.14H88.34M88.64 398.15V399.15M84.94 398.15H92.34M84.94 399.15H92.34M92.65 398.16V399.16M88.95 398.16H96.35M88.95 399.16H96.35M96.66 398.17V399.17M92.96 398.17H100.36M92.96 399.17H100.36M100.66 398.18V399.18M96.96 398.18H104.36M96.96 399.18H104.36M104.67 398.19V399.19M100.97 398.19H108.37M100.97 399.19H108.37M108.68 398.20V399.20M104.98 398.20H112.38M104.98 399.20H112.38M112.69 398.21V399.21M108.99 398.21H116.39M108.99 399.21H116.39M116.69 398.22V399.22M112.99 398.22H120.39M112.99 399.22H120.39M120.70 398.23V399.23M117.00 398.23H124.40M117.00 399.23H124.40M124.71 398.23V399.23M121.01 398.23H128.41M121.01 399.23H128.41M128.71 398.24V399.24M125.01 398.24H132.41M125.01 399.24H132.41M132.72 398.25V399.25M129.02 398.25H136.42M129.02 399.25H136.42M136.73 398.26V399.26M133.03 398.26H140.43M133.03 399.26H140.43M140.74 398.27V399.27M137.04 398.27H144.44M137.04 399.27H144.44M144.74 398.28V399.28M141.04 398.28H148.44M141.04 399.28H148.44M148.75 398.29V399.29M145.05 398.29H152.45M145.05 399.29H152.45M152.76 397.44V400.16M149.06 397.44H156.46M149.06 400.16H156.46M156.76 400.11V405.33M153.06 400.11H160.46M153.06 405.33H160.46M160.77 407.54V414.93M157.07 407.54H164.47M157.07 414.93H164.47M164.78 412.95V422.34M161.08 412.95H168.48M161.08 422.34H168.48M168.79 417.60V429.00M165.09 417.60H172.49M165.09 429.00H172.49M172.79 421.37V434.21M169.09 421.37H176.49M169.09 434.21H176.49M176.80 424.65V438.69M173.10 424.65H180.50M173.10 438.69H180.50M180.81 427.38V442.63M177.11 427.38H184.51M177.11 442.63H184.51M184.81 430.36V446.80M181.11 430.36H188.51M181.11 446.80H188.51M188.82 433.43V451.08M185.12 433.43H192.52M185.12 451.08H192.52M192.83 436.01V455.84M189.13 436.01H196.53M189.13 455.84H196.53M196.84 438.29V460.70M193.14 438.29H200.54M193.14 460.70H200.54M200.84 439.65V460.14M197.14 439.65H204.54M197.14 460.14H204.54M204.85 439.99V453.26M201.15 439.99H208.55M201.15 453.26H208.55M208.86 437.70V451.80M205.16 437.70H212.56M205.16 451.80H212.56M212.86 435.18V449.95M209.16 435.18H216.56M209.16 449.95H216.56M216.87 432.76V446.46M213.17 432.76H220.57M213.17 446.46H220.57M220.88 430.73V443.14M217.18 430.73H224.58M217.18 443.14H224.58M224.89 428.88V439.92M221.19 428.88H228.59M221.19 439.92H228.59M228.89 426.91V437.65M225.19 426.91H232.59M225.19 437.65H232.59M232.90 425.25V435.47M229.20 425.25H236.60M229.20 435.47H236.60M236.91 424.06V433.48M233.21 424.06H240.61M233.21 433.48H240.61M240.91 422.88V431.49M237.21 422.88H244.61M237.21 431.49H244.61M244.92 421.68V429.63M241.22 421.68H248.62M241.22 429.63H248.62M248.93 420.67V428.39M245.23 420.67H252.63M245.23 428.39H252.63M252.94 419.66V427.15M249.24 419.66H256.64M249.24 427.15H256.64M256.94 418.65V425.91M253.24 418.65H260.64M253.24 425.91H260.64M260.95 417.98V425.04M257.25 417.98H264.65M257.25 425.04H264.65M264.96 417.37V424.25M261.26 417.37H268.66M261.26 424.25H268.66M268.96 416.76V423.45M265.26 416.76H272.66M265.26 423.45H272.66M272.97 416.11V422.93M269.27 416.11H276.67M269.27 422.93H276.67M276.98 415.40V422.67M273.28 415.40H280.68M273.28 422.67H280.68M280.99 414.69V422.40M277.29 414.69H284.69M277.29 422.40H284.69M284.99 414.12V422.28M281.29 414.12H288.69M281.29 422.28H288.69M289.00 413.90V422.50M285.30 413.90H292.70M285.30 422.50H292.70" stroke="#00ffff" stroke-width="2.0" fill="none"/>
<polyline points="64.60,398.60 68.61,398.61 72.61,398.62 76.62,398.62 80.63,398.63 84.64,398.64 88.64,398.65 92.65,398.66 96.66,398.67 100.66,398.68 104.67,398.69 108.68,398.70 112.69,398.71 116.69,398.72 120.70,398.73 124.71,398.73 128.71,398.74 132.72,398.75 136.73,398.76 140.74,398.77 144.74,398.78 148.75,398.79 152.76,398.80 156.76,402.72 160.77,411.23 164.78,417.65 168.79,423.30 172.79,427.79 176.80,431.67 180.81,435.01 184.81,438.58 188.82,442.25 192.83,445.93 196.84,449.50 200.84,449.89 204.85,446.62 208.86,444.75 212.86,442.57 216.87,439.61 220.88,436.93 224.89,434.40 228.89,432.28 232.90,430.36 236.91,428.77 240.91,427.18 244.92,425.65 248.93,424.53 252.94,423.41 256.94,422.28 260.95,421.51 264.96,420.81 268.96,420.10 272.97,419.52 276.98,419.03 280.99,418.54 284.99,418.20 289.00,418.20" stroke="#00ffff" stroke-width="2.1" fill="none" stroke-linejoin="round"/>
<path d="M64.60 398.10V399.10M60.90 398.10H68.30M60.90 399.10H68.30M68.61 398.06V399.09M64.91 398.06H72.31M64.91 399.09H72.31M72.61 398.00V399.08M68.91 398.00H76.31M68.91 399.08H76.31M76.62 397.94V399.06M72.92 397.94H80.32M72.92 399.06H80.32M80.63 397.87V399.05M76.93 397.87H84.33M76.93 399.05H84.33M84.64 397.81V399.03M80.94 397.81H88.34M80.94 399.03H88.34M88.64 397.75V399.02M84.94 397.75H92.34M84.94 399.02H92.34M92.65 397.69V399.00M88.95 397.69H96.35M88.95 399.00H96.35M96.66 397.63V398.99M92.96 397.63H100.36M92.96 398.99H100.36M100.66 397.56V398.98M96.96 397.56H104.36M96.96 398.98H104.36M104.67 397.50V398.96M100.97 397.50H108.37M100.97 398.96H108.37M108.68 397.44V398.95M104.98 397.44H112.38M104.98 398.95H112.38M112.69 397.38V398.93M108.99 397.38H116.39M108.99 398.93H116.39M116.69 397.32V398.92M112.99 397.32H120.39M112.99 398.92H120.39M120.70 397.25V398.90M117.00 397.25H124.40M117.00 398.90H124.40M124.71 397.19V398.89M121.01 397.19H128.41M121.01 398.89H128.41M128.71 397.13V398.88M125.01 397.13H132.41M125.01 398.88H132.41M132.72 397.07V398.86M129.02 397.07H136.42M129.02 398.86H136.42M136.73 397.01V398.85M133.03 397.01H140.43M133.03 398.85H140.43M140.74 396.94V398.83M137.04 396.94H144.44M137.04 398.83H144.44M144.74 396.88V398.82M141.04 396.88H148.44M141.04 398.82H148.44M148.75 396.82V398.80M145.05 396.82H152.45M145.05 398.80H152.45M152.76 396.91V399.13M149.06 396.91H156.46M149.06 399.13H156.46M156.76 397.07V399.61M153.06 397.07H160.46M153.06 399.61H160.46M160.77 397.23V400.09M157.07 397.23H164.47M157.07 400.09H164.47M164.78 397.39V400.57M161.08 397.39H168.48M161.08 400.57H168.48M168.79 397.51V401.01M165.09 397.51H172.49M165.09 401.01H172.49M172.79 397.72V401.36M169.09 397.72H176.49M169.09 401.36H176.49M176.80 397.97V401.66M173.10 397.97H180.50M173.10 401.66H180.50M180.81 398.23V401.97M177.11 398.23H184.51M177.11 401.97H184.51M184.81 398.48V402.27M181.11 398.48H188.51M181.11 402.27H188.51M188.82 398.57V402.43M185.12 398.57H192.52M185.12 402.43H192.52M192.83 398.55V402.45M189.13 398.55H196.53M189.13 402.45H196.53M196.84 398.52V402.48M193.14 398.52H200.54M193.14 402.48H200.54M200.84 398.42V402.46M197.14 398.42H204.54M197.14 402.46H204.54M204.85 398.06V402.30M201.15 398.06H208.55M201.15 402.30H208.55M208.86 397.69V402.13M205.16 397.69H212.56M205.16 402.13H212.56M212.86 397.32V401.96M209.16 397.32H216.56M209.16 401.96H216.56M216.87 397.24V402.08M213.17 397.24H220.57M213.17 402.08H220.57M220.88 397.48V402.54M217.18 397.48H224.58M217.18 402.54H224.58M224.89 397.69V403.02M221.19 397.69H228.59M221.19 403.02H228.59M228.89 397.91V403.50M225.19 397.91H232.59M225.19 403.50H232.59M232.90 398.13V403.99M229.20 398.13H236.60M229.20 403.99H236.60M236.91 398.36V404.49M233.21 398.36H240.61M233.21 404.49H240.61M240.91 398.59V404.98M237.21 398.59H244.61M237.21 404.98H244.61M244.92 398.83V405.43M241.22 398.83H248.62M241.22 405.43H248.62M248.93 399.04V405.64M245.23 399.04H252.63M245.23 405.64H252.63M252.94 399.25V405.85M249.24 399.25H256.64M249.24 405.85H256.64M256.94 399.47V406.07M253.24 399.47H260.64M253.24 406.07H260.64M260.95 399.51V406.19M257.25 399.51H264.65M257.25 406.19H264.65M264.96 399.39V406.43M261.26 399.39H268.66M261.26 406.43H268.66M268.96 399.27V406.68M265.26 399.27H272.66M265.26 406.68H272.66M272.97 399.08V406.84M269.27 399.08H276.67M269.27 406.84H276.67M276.98 398.84V406.96M273.28 398.84H280.68M273.28 406.96H280.68M280.99 398.59V407.07M277.29 398.59H284.69M277.29 407.07H284.69M284.99 398.35V407.19M281.29 398.35H288.69M281.29 407.19H288.69M289.00 398.10V407.30M285.30 398.10H292.70M285.30 407.30H292.70" stroke="#ff0000" stroke-width="2.0" fill="none"/>
<polyline points="64.60,398.60 68.61,398.58 72.61,398.54 76.62,398.50 80.63,398.46 84.64,398.42 88.64,398.38 92.65,398.35 96.66,398.31 100.66,398.27 104.67,398.23 108.68,398.19 112.69,398.16 116.69,398.12 120.70,398.08 124.71,398.04 128.71,398.00 132.72,397.96 136.73,397.93 140.74,397.89 144.74,397.85 148.75,397.81 152.76,398.02 156.76,398.34 160.77,398.66 164.78,398.98 168.79,399.26 172.79,399.54 176.80,399.82 180.81,400.10 184.81,400.38 188.82,400.50 192.83,400.50 196.84,400.50 200.84,400.44 204.85,400.18 208.86,399.91 212.86,399.64 216.87,399.66 220.88,400.01 224.89,400.36 228.89,400.70 232.90,401.06 236.91,401.42 240.91,401.79 244.92,402.13 248.93,402.34 252.94,402.55 256.94,402.77 260.95,402.85 264.96,402.91 268.96,402.97 272.97,402.96 276.98,402.90 280.99,402.83 284.99,402.77 289.00,402.70" stroke="#ff0000" stroke-width="2.1" fill="none" stroke-linejoin="round"/>
<path d="M64.60 398.10V399.10M60.90 398.10H68.30M60.90 399.10H68.30M68.61 398.11V399.11M64.91 398.11H72.31M64.91 399.11H72.31M72.61 398.12V399.12M68.91 398.12H76.31M68.91 399.12H76.31M76.62 398.12V399.12M72.92 398.12H80.32M72.92 399.12H80.32M80.63 398.13V399.13M76.93 398.13H84.33M76.93 399.13H84.33M84.64 398.14V399.14M80.94 398.14H88.34M80.94 399.14H88.34M88.64 398.15V399.15M84.94 398.15H92.34M84.94 399.15H92.34M92.65 398.16V399.16M88.95 398.16H96.35M88.95 399.16H96.35M96.66 398.17V399.17M92.96 398.17H100.36M92.96 399.17H100.36M100.66 398.18V399.18M96.96 398.18H104.36M96.96 399.18H104.36M104.67 398.19V399.19M100.97 398.19H108.37M100.97 399.19H108.37M108.68 398.20V399.20M104.98 398.20H112.38M104.98 399.20H112.38M112.69 398.21V399.21M108.99 398.21H116.39M108.99 399.21H116.39M116.69 398.22V399.22M112.99 398.22H120.39M112.99 399.22H120.39M120.70 398.23V399.23M117.00 398.23H124.40M117.00 399.23H124.40M124.71 398.23V399.23M121.01 398.23H128.41M121.01 399.23H128.41M128.71 398.24V399.24M125.01 398.24H132.41M125.01 399.24H132.41M132.72 398.25V399.25M129.02 398.25H136.42M129.02 399.25H136.42M136.73 398.26V399.26M133.03 398.26H140.43M133.03 399.26H140.43M140.74 398.27V399.27M137.04 398.27H144.44M137.04 399.27H144.44M144.74 398.28V399.28M141.04 398.28H148.44M141.04 399.28H148.44M148.75 398.29V399.29M145.05 398.29H152.45M145.05 399.29H152.45M152.76 395.74V401.86M149.06 395.74H156.46M149.06 401.86H156.46M156.76 398.75V412.31M153.06 398.75H160.46M153.06 412.31H160.46M160.77 404.61V426.16M157.07 404.61H164.47M157.07 426.16H164.47M164.78 407.53V434.29M161.08 407.53H168.48M161.08 434.29H168.48M168.79 410.54V439.02M165.09 410.54H172.49M165.09 439.02H172.49M172.79 411.16V441.36M169.09 411.16H176.49M169.09 441.36H176.49M176.80 411.78V443.70M173.10 411.78H180.50M173.10 443.70H180.50M180.81 412.55V444.55M177.11 412.55H184.51M177.11 444.55H184.51M184.81 413.21V445.21M181.11 413.21H188.51M181.11 445.21H188.51M188.82 413.50V445.50M185.12 413.50H192.52M185.12 445.50H192.52M192.83 413.50V445.50M189.13 413.50H196.53M189.13 445.50H196.53M196.84 412.30V440.52M193.14 412.30H200.54M193.14 440.52H200.54M200.84 410.10V432.72M197.14 410.10H204.54M197.14 432.72H204.54M204.85 407.59V423.64M201.15 407.59H208.55M201.15 423.64H208.55M208.86 404.80V418.09M205.16 404.80H212.56M205.16 418.09H212.56M212.86 401.98V411.51M209.16 401.98H216.56M209.16 411.51H216.56M216.87 400.02V408.34M213.17 400.02H220.57M213.17 408.34H220.57M220.88 398.77V406.85M217.18 398.77H224.58M217.18 406.85H224.58M224.89 397.85V406.06M221.19 397.85H228.59M221.19 406.06H228.59M228.89 396.88V405.21M225.19 396.88H232.59M225.19 405.21H232.59M232.90 396.04V404.38M229.20 396.04H236.60M229.20 404.38H236.60M236.91 395.36V403.58M233.21 395.36H240.61M233.21 403.58H240.61M240.91 394.69V402.79M237.21 394.69H244.61M237.21 402.79H244.61M244.92 394.02V402.06M241.22 394.02H248.62M241.22 402.06H248.62M248.93 393.45V401.66M245.23 393.45H252.63M245.23 401.66H252.63M252.94 392.87V401.26M249.24 392.87H256.64M249.24 401.26H256.64M256.94 392.30V400.86M253.24 392.30H260.64M253.24 400.86H260.64M260.95 392.23V400.77M257.25 392.23H264.65M257.25 400.77H264.65M264.96 392.27V400.73M261.26 392.27H268.66M261.26 400.73H268.66M268.96 392.31V400.69M265.26 392.31H272.66M265.26 400.69H272.66M272.97 392.19V400.50M269.27 392.19H276.67M269.27 400.50H276.67M276.98 391.95V400.18M273.28 391.95H280.68M273.28 400.18H280.68M280.99 391.72V399.87M277.29 391.72H284.69M277.29 399.87H284.69M284.99 391.56V399.64M281.29 391.56H288.69M281.29 399.64H288.69M289.00 391.60V399.60M285.30 391.60H292.70M285.30 399.60H292.70" stroke="#0000ff" stroke-width="2.0" fill="none"/>
<polyline points="64.60,398.60 68.61,398.61 72.61,398.62 76.62,398.62 80.63,398.63 84.64,398.64 88.64,398.65 92.65,398.66 96.66,398.67 100.66,398.68 104.67,398.69 108.68,398.70 112.69,398.71 116.69,398.72 120.70,398.73 124.71,398.73 128.71,398.74 132.72,398.75 136.73,398.76 140.74,398.77 144.74,398.78 148.75,398.79 152.76,398.80 156.76,405.53 160.77,415.39 164.78,420.91 168.79,424.78 172.79,426.26 176.80,427.74 180.81,428.55 184.81,429.21 188.82,429.50 192.83,429.50 196.84,426.41 200.84,421.41 204.85,415.62 208.86,411.45 212.86,406.74 216.87,404.18 220.88,402.81 224.89,401.96 228.89,401.05 232.90,400.21 236.91,399.47 240.91,398.74 244.92,398.04 248.93,397.55 252.94,397.07 256.94,396.58 260.95,396.50 264.96,396.50 268.96,396.50 272.97,396.34 276.98,396.07 280.99,395.79 284.99,395.60 289.00,395.60" stroke="#0000ff" stroke-width="2.1" fill="none" stroke-linejoin="round"/>
<text transform="translate(329.50 371.00) scale(1.0 1)" font-size="19.5" text-anchor="start" fill="#000" stroke="#000" stroke-width="0.25" font-weight="bold">D</text>
<text transform="translate(355.30 370.60) scale(1.0 1)" font-size="17.2" text-anchor="start" fill="#000" stroke="#000" stroke-width="0.25" font-weight="normal">Ci-VSP</text>
<text transform="translate(355.30 390.80) scale(1.0 1)" font-size="17.2" text-anchor="start" fill="#000" stroke="#000" stroke-width="0.25" font-weight="normal">PI(4,5)P<tspan font-size="10.3" dy="5.0">2</tspan><tspan dy="-5.0">​</tspan></text>
<line x1="406.00" y1="401.50" x2="406.00" y2="588.30" stroke="#000" stroke-width="2.3" />
<line x1="405.00" y1="587.70" x2="661.60" y2="587.70" stroke="#000" stroke-width="2.1" />
<line x1="401.90" y1="413.80" x2="406.00" y2="413.80" stroke="#000" stroke-width="1.8" />
<text transform="translate(399.40 419.30) scale(1.0 1)" font-size="15.5" text-anchor="end" fill="#000" stroke="#000" stroke-width="0.25" font-weight="normal">1.2</text>
<line x1="401.90" y1="442.60" x2="406.00" y2="442.60" stroke="#000" stroke-width="1.8" />
<text transform="translate(399.40 448.10) scale(1.0 1)" font-size="15.5" text-anchor="end" fill="#000" stroke="#000" stroke-width="0.25" font-weight="normal">1.0</text>
<line x1="401.90" y1="471.40" x2="406.00" y2="471.40" stroke="#000" stroke-width="1.8" />
<text transform="translate(399.40 476.90) scale(1.0 1)" font-size="15.5" text-anchor="end" fill="#000" stroke="#000" stroke-width="0.25" font-weight="normal">0.8</text>
<line x1="401.90" y1="500.20" x2="406.00" y2="500.20" stroke="#000" stroke-width="1.8" />
<text transform="translate(399.40 505.70) scale(1.0 1)" font-size="15.5" text-anchor="end" fill="#000" stroke="#000" stroke-width="0.25" font-weight="normal">0.6</text>
<line x1="401.90" y1="529.00" x2="406.00" y2="529.00" stroke="#000" stroke-width="1.8" />
<text transform="translate(399.40 534.50) scale(1.0 1)" font-size="15.5" text-anchor="end" fill="#000" stroke="#000" stroke-width="0.25" font-weight="normal">0.4</text>
<line x1="401.90" y1="557.80" x2="406.00" y2="557.80" stroke="#000" stroke-width="1.8" />
<text transform="translate(399.40 563.30) scale(1.0 1)" font-size="15.5" text-anchor="end" fill="#000" stroke="#000" stroke-width="0.25" font-weight="normal">0.2</text>
<line x1="401.90" y1="586.80" x2="406.00" y2="586.80" stroke="#000" stroke-width="1.8" />
<text transform="translate(399.40 592.30) scale(1.0 1)" font-size="15.5" text-anchor="end" fill="#000" stroke="#000" stroke-width="0.25" font-weight="normal">0.0</text>
<text transform="translate(362.30 496.20) scale(1.0 1) rotate(-90)" font-size="17" text-anchor="middle" fill="#000" stroke="#000" stroke-width="0.25" font-weight="normal">KCNQ2 I<tspan font-size="10" dy="3.5">80 mV</tspan><tspan dy="-3.5">​</tspan>/I<tspan font-size="10" dy="3.5">0</tspan><tspan dy="-3.5">​</tspan></text>
<line x1="436.70" y1="414.60" x2="436.70" y2="420.50" stroke="#000" stroke-width="2.5" />
<line x1="431.30" y1="414.60" x2="442.10" y2="414.60" stroke="#000" stroke-width="2.4" />
<rect x="422.30" y="420.50" width="28.80" height="166.30" fill="#fff" stroke="#000" stroke-width="1.2"/>
<line x1="486.40" y1="562.40" x2="486.40" y2="566.30" stroke="#000" stroke-width="2.5" />
<line x1="481.00" y1="562.40" x2="491.80" y2="562.40" stroke="#000" stroke-width="2.4" />
<rect x="472.00" y="566.30" width="28.80" height="20.50" fill="#000000" stroke="#000" stroke-width="1.2"/>
<text x="486.90" y="567.00" font-size="23" letter-spacing="1.05" text-anchor="middle">***</text>
<line x1="536.10" y1="481.20" x2="536.10" y2="487.10" stroke="#000" stroke-width="2.5" />
<line x1="530.70" y1="481.20" x2="541.50" y2="481.20" stroke="#000" stroke-width="2.4" />
<rect x="521.70" y="487.10" width="28.80" height="99.70" fill="#00ffff" stroke="#000" stroke-width="1.2"/>
<text x="536.60" y="485.80" font-size="23" letter-spacing="1.05" text-anchor="middle">***</text>
<line x1="585.80" y1="478.80" x2="585.80" y2="485.90" stroke="#000" stroke-width="2.5" />
<line x1="580.40" y1="478.80" x2="591.20" y2="478.80" stroke="#000" stroke-width="2.4" />
<rect x="571.40" y="485.90" width="28.80" height="100.90" fill="#0000ff" stroke="#000" stroke-width="1.2"/>
<text x="586.30" y="483.40" font-size="23" letter-spacing="1.05" text-anchor="middle">***</text>
<line x1="635.50" y1="446.50" x2="635.50" y2="451.20" stroke="#000" stroke-width="2.5" />
<line x1="630.10" y1="446.50" x2="640.90" y2="446.50" stroke="#000" stroke-width="2.4" />
<rect x="621.10" y="451.20" width="28.80" height="135.60" fill="#ff0000" stroke="#000" stroke-width="1.2"/>
<text x="636.90" y="451.10" font-size="23" letter-spacing="1.05" text-anchor="middle">**</text>
<line x1="409" y1="442.00" x2="661.6" y2="442.00" stroke="#000" stroke-width="1.6" stroke-dasharray="1.6 3.9"/>
<text transform="translate(436.70 436.10) scale(1.0 1)" font-size="18" text-anchor="middle" fill="#000" stroke="#000" stroke-width="0.25" font-weight="normal">10</text>
<text transform="translate(486.40 581.90) scale(1.0 1)" font-size="18" text-anchor="middle" fill="#fff" stroke="#fff" stroke-width="0.25" font-weight="normal">8</text>
<text transform="translate(536.10 502.70) scale(1.0 1)" font-size="18" text-anchor="middle" fill="#000" stroke="#000" stroke-width="0.25" font-weight="normal">7</text>
<text transform="translate(585.80 501.50) scale(1.0 1)" font-size="18" text-anchor="middle" fill="#fff" stroke="#fff" stroke-width="0.25" font-weight="normal">7</text>
<text transform="translate(635.50 466.80) scale(1.0 1)" font-size="18" text-anchor="middle" fill="#fff" stroke="#fff" stroke-width="0.25" font-weight="normal">6</text>
<g transform="translate(462.00 605.50) rotate(-30)"><text x="-25.99" y="0.00" font-size="17" text-anchor="middle" fill="#000000" stroke="#000000" stroke-width="0.25">C363S</text></g>
<g transform="translate(498.50 605.50) rotate(-30)"><text x="-10.38" y="0.00" font-size="17" text-anchor="middle" fill="#000000" stroke="#000000" stroke-width="0.25">Wt</text></g>
<g transform="translate(550.00 605.00) rotate(-30)"><text x="-26.46" y="0.00" font-size="17" text-anchor="middle" fill="#00ffff" stroke="#00ffff" stroke-width="0.25">G365A</text></g>
<g transform="translate(612.50 601.50) rotate(-30)"><text x="-48.51" y="0.00" font-size="17" text-anchor="middle" fill="#0000ff" stroke="#0000ff" stroke-width="0.25">ET411/412TI</text></g>
<g transform="translate(673.00 594.00) rotate(-30)"><text x="-48.51" y="0.00" font-size="17" text-anchor="middle" fill="#ff0000" stroke="#ff0000" stroke-width="0.25">G365A</text><text x="-48.51" y="20.00" font-size="17" text-anchor="middle" fill="#ff0000" stroke="#ff0000" stroke-width="0.25">ET411/412TI</text></g>
<text transform="translate(1.00 721.30) scale(1.0 1)" font-size="19.5" text-anchor="start" fill="#000" stroke="#000" stroke-width="0.25" font-weight="bold">E</text>
<text transform="translate(74.40 721.10) scale(1.0 1)" font-size="17.2" text-anchor="start" fill="#000" stroke="#000" stroke-width="0.25" font-weight="normal">Hs-VSP1<tspan font-size="10.3" dy="5.0">CiV</tspan><tspan dy="-5.0">​</tspan></text>
<text transform="translate(74.40 741.90) scale(1.0 1)" font-size="17.2" text-anchor="start" fill="#000" stroke="#000" stroke-width="0.25" font-weight="normal">PI(4,5)P<tspan font-size="10.3" dy="5.0">2</tspan><tspan dy="-5.0">​</tspan></text>
<rect x="154.70" y="734.50" width="47.70" height="202.40" fill="#d8dada"/>
<line x1="64.40" y1="734.10" x2="64.40" y2="938.50" stroke="#000" stroke-width="2.3" />
<line x1="59.00" y1="735.10" x2="64.40" y2="735.10" stroke="#000" stroke-width="1.8" />
<text transform="translate(55.60 740.60) scale(1.0 1)" font-size="15.5" text-anchor="end" fill="#000" stroke="#000" stroke-width="0.25" font-weight="normal">1.05</text>
<line x1="59.00" y1="775.40" x2="64.40" y2="775.40" stroke="#000" stroke-width="1.8" />
<text transform="translate(55.60 780.90) scale(1.0 1)" font-size="15.5" text-anchor="end" fill="#000" stroke="#000" stroke-width="0.25" font-weight="normal">1.00</text>
<line x1="59.00" y1="815.70" x2="64.40" y2="815.70" stroke="#000" stroke-width="1.8" />
<text transform="translate(55.60 821.20) scale(1.0 1)" font-size="15.5" text-anchor="end" fill="#000" stroke="#000" stroke-width="0.25" font-weight="normal">0.95</text>
<line x1="59.00" y1="856.00" x2="64.40" y2="856.00" stroke="#000" stroke-width="1.8" />
<text transform="translate(55.60 861.50) scale(1.0 1)" font-size="15.5" text-anchor="end" fill="#000" stroke="#000" stroke-width="0.25" font-weight="normal">0.90</text>
<line x1="59.00" y1="896.30" x2="64.40" y2="896.30" stroke="#000" stroke-width="1.8" />
<text transform="translate(55.60 901.80) scale(1.0 1)" font-size="15.5" text-anchor="end" fill="#000" stroke="#000" stroke-width="0.25" font-weight="normal">0.85</text>
<line x1="59.00" y1="936.40" x2="64.40" y2="936.40" stroke="#000" stroke-width="1.8" />
<text transform="translate(55.60 941.90) scale(1.0 1)" font-size="15.5" text-anchor="end" fill="#000" stroke="#000" stroke-width="0.25" font-weight="normal">0.80</text>
<text transform="translate(16.50 837.50) scale(1.0 1) rotate(-90)" font-size="17" text-anchor="middle" fill="#000" stroke="#000" stroke-width="0.25" font-weight="normal">PLCδ1-PH-GFP F/F<tspan font-size="11" dy="4">0</tspan><tspan dy="-4">​</tspan></text>
<rect x="242.80" y="929.80" width="46.70" height="3.20" fill="#000"/>
<text transform="translate(266.20 949.50) scale(1.0 1)" font-size="17.4" text-anchor="middle" fill="#000" stroke="#000" stroke-width="0.25" font-weight="normal">30 s</text>
<text transform="translate(74.30 965.90) scale(1.0 1)" font-size="17.1" text-anchor="start" fill="#000" stroke="#000" stroke-width="0.25" font-weight="normal">Hs-VSP1<tspan font-size="10.3" dy="5.0">CiV</tspan><tspan dy="-5.0">​</tspan></text>
<text transform="translate(74.30 986.90) scale(1.0 1)" font-size="17.1" text-anchor="start" fill="#00ffff" stroke="#00ffff" stroke-width="0.25" font-weight="normal">Hs-VSP1<tspan font-size="10.3" dy="5.0">CiV</tspan><tspan dy="-5.0">​</tspan>(G322A)</text>
<text transform="translate(74.30 1007.90) scale(1.0 1)" font-size="17.1" text-anchor="start" fill="#0000ff" stroke="#0000ff" stroke-width="0.25" font-weight="normal">Hs-VSP1<tspan font-size="10.3" dy="5.0">CiV</tspan><tspan dy="-5.0">​</tspan>(ET368/369TI)</text>
<text transform="translate(74.30 1029.60) scale(1.0 1)" font-size="17.1" text-anchor="start" fill="#ff0000" stroke="#ff0000" stroke-width="0.25" font-weight="normal">Hs-VSP1<tspan font-size="10.3" dy="5.0">CiV</tspan><tspan dy="-5.0">​</tspan>(G322A, ET368/369TI)</text>
<path d="M64.60 773.50V778.50M60.90 773.50H68.30M60.90 778.50H68.30M69.24 773.54V778.54M65.54 773.54H72.94M65.54 778.54H72.94M73.88 773.59V778.59M70.18 773.59H77.58M70.18 778.59H77.58M78.52 773.65V778.65M74.82 773.65H82.22M74.82 778.65H82.22M83.16 773.70V778.70M79.46 773.70H86.86M79.46 778.70H86.86M87.80 773.76V778.76M84.10 773.76H91.50M84.10 778.76H91.50M92.44 773.81V778.81M88.74 773.81H96.14M88.74 778.81H96.14M97.08 773.87V778.87M93.38 773.87H100.78M93.38 778.87H100.78M101.72 773.93V778.93M98.02 773.93H105.42M98.02 778.93H105.42M106.36 773.98V778.98M102.66 773.98H110.06M102.66 778.98H110.06M111.00 774.04V779.04M107.30 774.04H114.70M107.30 779.04H114.70M115.64 774.09V779.09M111.94 774.09H119.34M111.94 779.09H119.34M120.27 774.15V779.15M116.57 774.15H123.97M116.57 779.15H123.97M124.91 774.20V779.20M121.21 774.20H128.61M121.21 779.20H128.61M129.55 774.26V779.26M125.85 774.26H133.25M125.85 779.26H133.25M134.19 774.31V779.31M130.49 774.31H137.89M130.49 779.31H137.89M138.83 774.37V779.37M135.13 774.37H142.53M135.13 779.37H142.53M143.47 774.42V779.42M139.77 774.42H147.17M139.77 779.42H147.17M148.11 774.48V779.48M144.41 774.48H151.81M144.41 779.48H151.81M152.75 776.17V781.28M149.05 776.17H156.45M149.05 781.28H156.45M157.39 778.97V784.27M153.69 778.97H161.09M153.69 784.27H161.09M162.03 779.99V785.47M158.33 779.99H165.73M158.33 785.47H165.73M166.67 780.74V786.41M162.97 780.74H170.37M162.97 786.41H170.37M171.31 781.49V787.35M167.61 781.49H175.01M167.61 787.35H175.01M175.95 782.24V788.28M172.25 782.24H179.65M172.25 788.28H179.65M180.59 783.00V789.22M176.89 783.00H184.29M176.89 789.22H184.29M185.23 783.75V790.16M181.53 783.75H188.93M181.53 790.16H188.93M189.87 784.50V791.09M186.17 784.50H193.57M186.17 791.09H193.57M194.51 785.25V792.03M190.81 785.25H198.21M190.81 792.03H198.21M199.15 786.00V792.96M195.45 786.00H202.85M195.45 792.96H202.85M203.79 786.70V793.83M200.09 786.70H207.49M200.09 793.83H207.49M208.43 787.31V794.59M204.73 787.31H212.13M204.73 794.59H212.13M213.07 787.92V795.36M209.37 787.92H216.77M209.37 795.36H216.77M217.71 788.53V796.12M214.01 788.53H221.41M214.01 796.12H221.41M222.35 789.14V796.89M218.65 789.14H226.05M218.65 796.89H226.05M226.99 789.75V797.65M223.29 789.75H230.69M223.29 797.65H230.69M231.62 790.17V798.27M227.93 790.17H235.32M227.93 798.27H235.32M236.26 790.40V798.82M232.56 790.40H239.96M232.56 798.82H239.96M240.90 790.63V799.36M237.20 790.63H244.60M237.20 799.36H244.60M245.54 790.87V799.91M241.84 790.87H249.24M241.84 799.91H249.24M250.18 791.10V800.45M246.48 791.10H253.88M246.48 800.45H253.88M254.82 791.34V800.99M251.12 791.34H258.52M251.12 800.99H258.52M259.46 791.57V801.54M255.76 791.57H263.16M255.76 801.54H263.16M264.10 791.44V802.16M260.40 791.44H267.80M260.40 802.16H267.80M268.74 791.27V802.78M265.04 791.27H272.44M265.04 802.78H272.44M273.38 791.09V803.41M269.68 791.09H277.08M269.68 803.41H277.08M278.02 790.91V804.04M274.32 790.91H281.72M274.32 804.04H281.72M282.66 790.73V804.67M278.96 790.73H286.36M278.96 804.67H286.36M287.30 790.56V805.30M283.60 790.56H291.00M283.60 805.30H291.00" stroke="#00ffff" stroke-width="2.0" fill="none"/>
<polyline points="64.60,776.00 69.24,776.04 73.88,776.09 78.52,776.15 83.16,776.20 87.80,776.26 92.44,776.31 97.08,776.37 101.72,776.43 106.36,776.48 111.00,776.54 115.64,776.59 120.27,776.65 124.91,776.70 129.55,776.76 134.19,776.81 138.83,776.87 143.47,776.92 148.11,776.98 152.75,778.72 157.39,781.62 162.03,782.73 166.67,783.58 171.31,784.42 175.95,785.26 180.59,786.11 185.23,786.95 189.87,787.79 194.51,788.64 199.15,789.48 203.79,790.26 208.43,790.95 213.07,791.64 217.71,792.33 222.35,793.01 226.99,793.70 231.62,794.22 236.26,794.61 240.90,795.00 245.54,795.39 250.18,795.78 254.82,796.17 259.46,796.55 264.10,796.80 268.74,797.02 273.38,797.25 278.02,797.48 282.66,797.70 287.30,797.93" stroke="#00ffff" stroke-width="2.1" fill="none" stroke-linejoin="round"/>
<path d="M64.60 773.00V777.00M60.90 773.00H68.30M60.90 777.00H68.30M69.24 773.10V777.10M65.54 773.10H72.94M65.54 777.10H72.94M73.88 773.23V777.23M70.18 773.23H77.58M70.18 777.23H77.58M78.52 773.37V777.37M74.82 773.37H82.22M74.82 777.37H82.22M83.16 773.50V777.50M79.46 773.50H86.86M79.46 777.50H86.86M87.80 773.64V777.64M84.10 773.64H91.50M84.10 777.64H91.50M92.44 773.78V777.78M88.74 773.78H96.14M88.74 777.78H96.14M97.08 773.91V777.91M93.38 773.91H100.78M93.38 777.91H100.78M101.72 774.06V778.06M98.02 774.06H105.42M98.02 778.06H105.42M106.36 774.21V778.21M102.66 774.21H110.06M102.66 778.21H110.06M111.00 774.37V778.37M107.30 774.37H114.70M107.30 778.37H114.70M115.64 774.52V778.52M111.94 774.52H119.34M111.94 778.52H119.34M120.27 774.68V778.68M116.57 774.68H123.97M116.57 778.68H123.97M124.91 774.83V778.83M121.21 774.83H128.61M121.21 778.83H128.61M129.55 774.99V778.99M125.85 774.99H133.25M125.85 778.99H133.25M134.19 774.79V778.79M130.49 774.79H137.89M130.49 778.79H137.89M138.83 774.56V778.56M135.13 774.56H142.53M135.13 778.56H142.53M143.47 774.33V778.33M139.77 774.33H147.17M139.77 778.33H147.17M148.11 774.09V778.09M144.41 774.09H151.81M144.41 778.09H151.81M152.75 775.48V780.19M149.05 775.48H156.45M149.05 780.19H156.45M157.39 798.12V804.05M153.69 798.12H161.09M153.69 804.05H161.09M162.03 824.22V831.65M158.33 824.22H165.73M158.33 831.65H165.73M166.67 851.36V863.73M162.97 851.36H170.37M162.97 863.73H170.37M171.31 873.11V887.96M167.61 873.11H175.01M167.61 887.96H175.01M175.95 888.55V904.14M172.25 888.55H179.65M172.25 904.14H179.65M180.59 895.74V911.75M176.89 895.74H184.29M176.89 911.75H184.29M185.23 900.95V917.46M181.53 900.95H188.93M181.53 917.46H188.93M189.87 900.89V919.63M186.17 900.89H193.57M186.17 919.63H193.57M194.51 900.16V919.14M190.81 900.16H198.21M190.81 919.14H198.21M199.15 893.32V912.48M195.45 893.32H202.85M195.45 912.48H202.85M203.79 877.49V896.99M200.09 877.49H207.49M200.09 896.99H207.49M208.43 864.01V883.89M204.73 864.01H212.13M204.73 883.89H212.13M213.07 852.88V872.88M209.37 852.88H216.77M209.37 872.88H216.77M217.71 839.26V859.26M214.01 839.26H221.41M214.01 859.26H221.41M222.35 830.59V850.59M218.65 830.59H226.05M218.65 850.59H226.05M226.99 821.03V841.03M223.29 821.03H230.69M223.29 841.03H230.69M231.62 817.07V837.15M227.93 817.07H235.32M227.93 837.15H235.32M236.26 812.85V833.16M232.56 812.85H239.96M232.56 833.16H239.96M240.90 806.06V826.60M237.20 806.06H244.60M237.20 826.60H244.60M245.54 804.25V825.03M241.84 804.25H249.24M241.84 825.03H249.24M250.18 801.91V822.93M246.48 801.91H253.88M246.48 822.93H253.88M254.82 799.64V821.28M251.12 799.64H258.52M251.12 821.28H258.52M259.46 797.86V820.12M255.76 797.86H263.16M255.76 820.12H263.16M264.10 797.05V819.93M260.40 797.05H267.80M260.40 819.93H267.80M268.74 796.45V819.76M265.04 796.45H272.44M265.04 819.76H272.44M273.38 795.73V819.43M269.68 795.73H277.08M269.68 819.43H277.08M278.02 794.95V819.05M274.32 794.95H281.72M274.32 819.05H281.72M282.66 794.46V818.94M278.96 794.46H286.36M278.96 818.94H286.36M287.30 793.96V818.83M283.60 793.96H291.00M283.60 818.83H291.00" stroke="#000000" stroke-width="2.0" fill="none"/>
<polyline points="64.60,775.00 69.24,775.10 73.88,775.23 78.52,775.37 83.16,775.50 87.80,775.64 92.44,775.78 97.08,775.91 101.72,776.06 106.36,776.21 111.00,776.37 115.64,776.52 120.27,776.68 124.91,776.83 129.55,776.99 134.19,776.79 138.83,776.56 143.47,776.33 148.11,776.09 152.75,777.83 157.39,801.08 162.03,827.94 166.67,857.54 171.31,880.54 175.95,896.35 180.59,903.74 185.23,909.21 189.87,910.26 194.51,909.65 199.15,902.90 203.79,887.24 208.43,873.95 213.07,862.88 217.71,849.26 222.35,840.59 226.99,831.03 231.62,827.11 236.26,823.01 240.90,816.33 245.54,814.64 250.18,812.42 254.82,810.46 259.46,808.99 264.10,808.49 268.74,808.10 273.38,807.58 278.02,807.00 282.66,806.70 287.30,806.40" stroke="#000000" stroke-width="2.1" fill="none" stroke-linejoin="round"/>
<path d="M64.60 772.00V778.00M60.90 772.00H68.30M60.90 778.00H68.30M69.24 772.27V778.27M65.54 772.27H72.94M65.54 778.27H72.94M73.88 772.66V778.66M70.18 772.66H77.58M70.18 778.66H77.58M78.52 773.04V779.04M74.82 773.04H82.22M74.82 779.04H82.22M83.16 773.43V779.43M79.46 773.43H86.86M79.46 779.43H86.86M87.80 773.12V780.52M84.10 773.12H91.50M84.10 780.52H91.50M92.44 771.90V781.62M88.74 771.90H96.14M88.74 781.62H96.14M97.08 770.32V782.26M93.38 770.32H100.78M93.38 782.26H100.78M101.72 771.60V780.06M98.02 771.60H105.42M98.02 780.06H105.42M106.36 772.36V778.36M102.66 772.36H110.06M102.66 778.36H110.06M111.00 772.05V778.05M107.30 772.05H114.70M107.30 778.05H114.70M115.64 772.28V778.28M111.94 772.28H119.34M111.94 778.28H119.34M120.27 772.51V778.51M116.57 772.51H123.97M116.57 778.51H123.97M124.91 772.75V778.75M121.21 772.75H128.61M121.21 778.75H128.61M129.55 772.98V778.98M125.85 772.98H133.25M125.85 778.98H133.25M134.19 772.79V778.79M130.49 772.79H137.89M130.49 778.79H137.89M138.83 772.56V778.56M135.13 772.56H142.53M135.13 778.56H142.53M143.47 772.33V778.33M139.77 772.33H147.17M139.77 778.33H147.17M148.11 772.09V778.09M144.41 772.09H151.81M144.41 778.09H151.81M152.75 771.45V777.45M149.05 771.45H156.45M149.05 777.45H156.45M157.39 770.52V776.52M153.69 770.52H161.09M153.69 776.52H161.09M162.03 770.41V776.41M158.33 770.41H165.73M158.33 776.41H165.73M166.67 771.33V777.33M162.97 771.33H170.37M162.97 777.33H170.37M171.31 772.40V778.40M167.61 772.40H175.01M167.61 778.40H175.01M175.95 773.83V779.83M172.25 773.83H179.65M172.25 779.83H179.65M180.59 775.23V781.29M176.89 775.23H184.29M176.89 781.29H184.29M185.23 775.88V782.40M181.53 775.88H188.93M181.53 782.40H188.93M189.87 775.94V782.92M186.17 775.94H193.57M186.17 782.92H193.57M194.51 775.99V783.44M190.81 775.99H198.21M190.81 783.44H198.21M199.15 776.02V783.94M195.45 776.02H202.85M195.45 783.94H202.85M203.79 775.22V783.59M200.09 775.22H207.49M200.09 783.59H207.49M208.43 774.41V783.23M204.73 774.41H212.13M204.73 783.23H212.13M213.07 773.60V782.88M209.37 773.60H216.77M209.37 782.88H216.77M217.71 772.96V782.68M214.01 772.96H221.41M214.01 782.68H221.41M222.35 772.42V782.60M218.65 772.42H226.05M218.65 782.60H226.05M226.99 771.88V782.52M223.29 771.88H230.69M223.29 782.52H230.69M231.62 771.46V782.54M227.93 771.46H235.32M227.93 782.54H235.32M236.26 771.23V782.77M232.56 771.23H239.96M232.56 782.77H239.96M240.90 771.00V783.00M237.20 771.00H244.60M237.20 783.00H244.60M245.54 769.26V782.02M241.84 769.26H249.24M241.84 782.02H249.24M250.18 767.27V780.80M246.48 767.27H253.88M246.48 780.80H253.88M254.82 765.28V779.59M251.12 765.28H258.52M251.12 779.59H258.52M259.46 763.52V778.59M255.76 763.52H263.16M255.76 778.59H263.16M264.10 761.79V777.64M260.40 761.79H267.80M260.40 777.64H267.80M268.74 758.59V776.72M265.04 758.59H272.44M265.04 776.72H272.44M273.38 755.51V776.01M269.68 755.51H277.08M269.68 776.01H277.08M278.02 753.79V775.97M274.32 753.79H281.72M274.32 775.97H281.72M282.66 752.06V775.94M278.96 752.06H286.36M278.96 775.94H286.36M287.30 751.39V775.39M283.60 751.39H291.00M283.60 775.39H291.00" stroke="#0000ff" stroke-width="2.0" fill="none"/>
<polyline points="64.60,775.00 69.24,775.27 73.88,775.66 78.52,776.04 83.16,776.43 87.80,776.82 92.44,776.76 97.08,776.29 101.72,775.83 106.36,775.36 111.00,775.05 115.64,775.28 120.27,775.51 124.91,775.75 129.55,775.98 134.19,775.79 138.83,775.56 143.47,775.33 148.11,775.09 152.75,774.45 157.39,773.52 162.03,773.41 166.67,774.33 171.31,775.40 175.95,776.83 180.59,778.26 185.23,779.14 189.87,779.43 194.51,779.72 199.15,779.98 203.79,779.40 208.43,778.82 213.07,778.24 217.71,777.82 222.35,777.51 226.99,777.20 231.62,777.00 236.26,777.00 240.90,777.00 245.54,775.64 250.18,774.04 254.82,772.43 259.46,771.06 264.10,769.72 268.74,767.65 273.38,765.76 278.02,764.88 282.66,764.00 287.30,763.39" stroke="#0000ff" stroke-width="2.1" fill="none" stroke-linejoin="round"/>
<path d="M64.60 769.00V775.00M60.90 769.00H68.30M60.90 775.00H68.30M69.24 771.43V777.43M65.54 771.43H72.94M65.54 777.43H72.94M73.88 772.78V778.78M70.18 772.78H77.58M70.18 778.78H77.58M78.52 773.70V779.70M74.82 773.70H82.22M74.82 779.70H82.22M83.16 773.37V779.37M79.46 773.37H86.86M79.46 779.37H86.86M87.80 772.44V778.44M84.10 772.44H91.50M84.10 778.44H91.50M92.44 770.78V778.73M88.74 770.78H96.14M88.74 778.73H96.14M97.08 769.92V778.67M93.38 769.92H100.78M93.38 778.67H100.78M101.72 770.48V778.21M98.02 770.48H105.42M98.02 778.21H105.42M106.36 769.87V779.59M102.66 769.87H110.06M102.66 779.59H110.06M111.00 770.73V778.07M107.30 770.73H114.70M107.30 778.07H114.70M115.64 771.34V781.29M111.94 771.34H119.34M111.94 781.29H119.34M120.27 770.18V787.09M116.57 770.18H123.97M116.57 787.09H123.97M124.91 770.98V781.15M121.21 770.98H128.61M121.21 781.15H128.61M129.55 772.09V778.09M125.85 772.09H133.25M125.85 778.09H133.25M134.19 772.00V778.00M130.49 772.00H137.89M130.49 778.00H137.89M138.83 772.00V778.00M135.13 772.00H142.53M135.13 778.00H142.53M143.47 772.69V778.69M139.77 772.69H147.17M139.77 778.69H147.17M148.11 771.93V778.82M144.41 771.93H151.81M144.41 778.82H151.81M152.75 773.88V782.79M149.05 773.88H156.45M149.05 782.79H156.45M157.39 775.07V788.88M153.69 775.07H161.09M153.69 788.88H161.09M162.03 770.25V781.74M158.33 770.25H165.73M158.33 781.74H165.73M166.67 770.25V780.58M162.97 770.25H170.37M162.97 780.58H170.37M171.31 769.54V780.81M167.61 769.54H175.01M167.61 780.81H175.01M175.95 769.67V781.92M172.25 769.67H179.65M172.25 781.92H179.65M180.59 769.67V783.16M176.89 769.67H184.29M176.89 783.16H184.29M185.23 769.73V784.46M181.53 769.73H188.93M181.53 784.46H188.93M189.87 770.97V786.93M186.17 770.97H193.57M186.17 786.93H193.57M194.51 772.44V789.16M190.81 772.44H198.21M190.81 789.16H198.21M199.15 769.78V787.24M195.45 769.78H202.85M195.45 787.24H202.85M203.79 769.15V787.36M200.09 769.15H207.49M200.09 787.36H207.49M208.43 769.09V788.04M204.73 769.09H212.13M204.73 788.04H212.13M213.07 769.03V788.72M209.37 769.03H216.77M209.37 788.72H216.77M217.71 768.76V789.41M214.01 768.76H221.41M214.01 789.41H221.41M222.35 768.34V790.11M218.65 768.34H226.05M218.65 790.11H226.05M226.99 767.93V790.81M223.29 767.93H230.69M223.29 790.81H230.69M231.62 767.52V791.51M227.93 767.52H235.32M227.93 791.51H235.32M236.26 767.10V792.21M232.56 767.10H239.96M232.56 792.21H239.96M240.90 766.62V792.98M237.20 766.62H244.60M237.20 792.98H244.60M245.54 765.69V793.91M241.84 765.69H249.24M241.84 793.91H249.24M250.18 764.76V794.84M246.48 764.76H253.88M246.48 794.84H253.88M254.82 763.84V795.76M251.12 763.84H258.52M251.12 795.76H258.52M259.46 764.00V798.38M255.76 764.00H263.16M255.76 798.38H263.16M264.10 764.22V801.07M260.40 764.22H267.80M260.40 801.07H267.80M268.74 764.95V804.28M265.04 764.95H272.44M265.04 804.28H272.44M273.38 764.46V805.00M269.68 764.46H277.08M269.68 805.00H277.08M278.02 759.85V801.13M274.32 759.85H281.72M274.32 801.13H281.72M282.66 758.28V800.30M278.96 758.28H286.36M278.96 800.30H286.36M287.30 756.71V799.47M283.60 756.71H291.00M283.60 799.47H291.00" stroke="#ff0000" stroke-width="2.0" fill="none"/>
<polyline points="64.60,772.00 69.24,774.43 73.88,775.78 78.52,776.70 83.16,776.37 87.80,775.44 92.44,774.76 97.08,774.29 101.72,774.34 106.36,774.73 111.00,774.40 115.64,776.32 120.27,778.64 124.91,776.06 129.55,775.09 134.19,775.00 138.83,775.00 143.47,775.69 148.11,775.38 152.75,778.34 157.39,781.97 162.03,776.00 166.67,775.42 171.31,775.17 175.95,775.79 180.59,776.41 185.23,777.09 189.87,778.95 194.51,780.80 199.15,778.51 203.79,778.25 208.43,778.56 213.07,778.87 217.71,779.08 222.35,779.23 226.99,779.37 231.62,779.51 236.26,779.65 240.90,779.80 245.54,779.80 250.18,779.80 254.82,779.80 259.46,781.19 264.10,782.64 268.74,784.62 273.38,784.73 278.02,780.49 282.66,779.29 287.30,778.09" stroke="#ff0000" stroke-width="2.1" fill="none" stroke-linejoin="round"/>
<text transform="translate(329.50 721.50) scale(1.0 1)" font-size="19.5" text-anchor="start" fill="#000" stroke="#000" stroke-width="0.25" font-weight="bold">F</text>
<text transform="translate(354.90 722.90) scale(1.0 1)" font-size="17.2" text-anchor="start" fill="#000" stroke="#000" stroke-width="0.25" font-weight="normal">Hs-VSP1<tspan font-size="10.3" dy="5.0">CiV</tspan><tspan dy="-5.0">​</tspan></text>
<text transform="translate(354.90 743.70) scale(1.0 1)" font-size="17.2" text-anchor="start" fill="#000" stroke="#000" stroke-width="0.25" font-weight="normal">PI(4,5)P<tspan font-size="10.3" dy="5.0">2</tspan><tspan dy="-5.0">​</tspan></text>
<line x1="406.00" y1="765.10" x2="406.00" y2="937.90" stroke="#000" stroke-width="2.3" />
<line x1="405.00" y1="937.30" x2="613.30" y2="937.30" stroke="#000" stroke-width="2.1" />
<line x1="401.50" y1="779.50" x2="406.00" y2="779.50" stroke="#000" stroke-width="1.8" />
<text transform="translate(397.80 785.00) scale(1.0 1)" font-size="15.5" text-anchor="end" fill="#000" stroke="#000" stroke-width="0.25" font-weight="normal">1.0</text>
<line x1="401.50" y1="810.90" x2="406.00" y2="810.90" stroke="#000" stroke-width="1.8" />
<text transform="translate(397.80 816.40) scale(1.0 1)" font-size="15.5" text-anchor="end" fill="#000" stroke="#000" stroke-width="0.25" font-weight="normal">0.8</text>
<line x1="401.50" y1="842.30" x2="406.00" y2="842.30" stroke="#000" stroke-width="1.8" />
<text transform="translate(397.80 847.80) scale(1.0 1)" font-size="15.5" text-anchor="end" fill="#000" stroke="#000" stroke-width="0.25" font-weight="normal">0.6</text>
<line x1="401.50" y1="873.70" x2="406.00" y2="873.70" stroke="#000" stroke-width="1.8" />
<text transform="translate(397.80 879.20) scale(1.0 1)" font-size="15.5" text-anchor="end" fill="#000" stroke="#000" stroke-width="0.25" font-weight="normal">0.4</text>
<line x1="401.50" y1="905.10" x2="406.00" y2="905.10" stroke="#000" stroke-width="1.8" />
<text transform="translate(397.80 910.60) scale(1.0 1)" font-size="15.5" text-anchor="end" fill="#000" stroke="#000" stroke-width="0.25" font-weight="normal">0.2</text>
<line x1="401.50" y1="936.40" x2="406.00" y2="936.40" stroke="#000" stroke-width="1.8" />
<text transform="translate(397.80 941.90) scale(1.0 1)" font-size="15.5" text-anchor="end" fill="#000" stroke="#000" stroke-width="0.25" font-weight="normal">0.0</text>
<text transform="translate(360.50 852.00) scale(1.0 1) rotate(-90)" font-size="17" text-anchor="middle" fill="#000" stroke="#000" stroke-width="0.25" font-weight="normal">KCNQ2 I<tspan font-size="10" dy="3.5">80 mV</tspan><tspan dy="-3.5">​</tspan>/I<tspan font-size="10" dy="3.5">0</tspan><tspan dy="-3.5">​</tspan></text>
<line x1="436.60" y1="823.90" x2="436.60" y2="832.60" stroke="#000" stroke-width="2.5" />
<line x1="431.20" y1="823.90" x2="442.00" y2="823.90" stroke="#000" stroke-width="2.4" />
<rect x="422.20" y="832.60" width="28.80" height="103.80" fill="#000000" stroke="#000" stroke-width="1.2"/>
<line x1="486.30" y1="803.70" x2="486.30" y2="813.50" stroke="#000" stroke-width="2.5" />
<line x1="480.90" y1="803.70" x2="491.70" y2="803.70" stroke="#000" stroke-width="2.4" />
<rect x="471.90" y="813.50" width="28.80" height="122.90" fill="#00ffff" stroke="#000" stroke-width="1.2"/>
<line x1="536.00" y1="776.20" x2="536.00" y2="786.30" stroke="#000" stroke-width="2.5" />
<line x1="530.60" y1="776.20" x2="541.40" y2="776.20" stroke="#000" stroke-width="2.4" />
<rect x="521.60" y="786.30" width="28.80" height="150.10" fill="#0000ff" stroke="#000" stroke-width="1.2"/>
<text x="537.40" y="780.80" font-size="23" letter-spacing="1.05" text-anchor="middle">**</text>
<line x1="585.70" y1="762.80" x2="585.70" y2="771.80" stroke="#000" stroke-width="2.5" />
<line x1="580.30" y1="762.80" x2="591.10" y2="762.80" stroke="#000" stroke-width="2.4" />
<rect x="571.30" y="771.80" width="28.80" height="164.60" fill="#ff0000" stroke="#000" stroke-width="1.2"/>
<text x="586.20" y="767.40" font-size="23" letter-spacing="1.05" text-anchor="middle">***</text>
<line x1="409" y1="779.60" x2="615" y2="779.60" stroke="#000" stroke-width="1.6" stroke-dasharray="1.6 3.9"/>
<text transform="translate(436.60 848.20) scale(1.0 1)" font-size="18" text-anchor="middle" fill="#fff" stroke="#fff" stroke-width="0.25" font-weight="normal">7</text>
<text transform="translate(486.30 829.10) scale(1.0 1)" font-size="18" text-anchor="middle" fill="#000" stroke="#000" stroke-width="0.25" font-weight="normal">6</text>
<text transform="translate(536.00 801.90) scale(1.0 1)" font-size="18" text-anchor="middle" fill="#fff" stroke="#fff" stroke-width="0.25" font-weight="normal">6</text>
<text transform="translate(585.70 787.40) scale(1.0 1)" font-size="18" text-anchor="middle" fill="#fff" stroke="#fff" stroke-width="0.25" font-weight="normal">7</text>
<g transform="translate(446.00 958.30) rotate(-30)"><text x="-10.38" y="0.00" font-size="17" text-anchor="middle" fill="#000000" stroke="#000000" stroke-width="0.25">Wt</text></g>
<g transform="translate(500.00 953.00) rotate(-30)"><text x="-26.46" y="0.00" font-size="17" text-anchor="middle" fill="#00ffff" stroke="#00ffff" stroke-width="0.25">G322A</text></g>
<g transform="translate(565.00 951.00) rotate(-30)"><text x="-49.14" y="0.00" font-size="17" text-anchor="middle" fill="#0000ff" stroke="#0000ff" stroke-width="0.25">ET368/369TI</text></g>
<g transform="translate(625.00 942.00) rotate(-30)"><text x="-49.14" y="0.00" font-size="17" text-anchor="middle" fill="#ff0000" stroke="#ff0000" stroke-width="0.25">G322A</text><text x="-49.14" y="20.00" font-size="17" text-anchor="middle" fill="#ff0000" stroke="#ff0000" stroke-width="0.25">ET368/369TI</text></g>
</svg>
</body></html>
